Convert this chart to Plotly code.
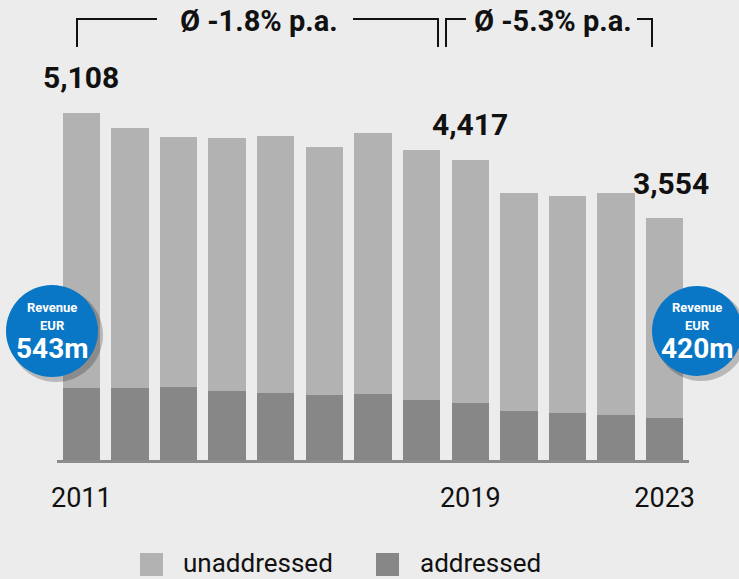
import plotly.graph_objects as go

# ---- data ----
years = list(range(2011, 2024))
totals = [5108, 4883, 4741, 4730, 4760, 4598, 4814, 4560, 4417, 3918, 3888, 3922, 3554]
addressed = [1061, 1055, 1070, 1017, 978, 953, 967, 885, 841, 717, 688, 664, 620]
unaddressed = [t - a for t, a in zip(totals, addressed)]
series_names = ["unaddressed", "addressed"]
tick_years = [2011, 2019, 2023]
labelled_years = [2011, 2019, 2023]
cagr_texts = ["Ø -1.8% p.a.", "Ø -5.3% p.a."]
revenue_texts = [("Revenue", "EUR", "543m"), ("Revenue", "EUR", "420m")]

# ---- style ----
W, H = 739, 579
ML, MR, MT, MB = 57, 50, 0, 119
PW, PH = W - ML - MR, H - MT - MB
BG = "#ececec"
C_UN = "#b2b2b2"
C_AD = "#878787"
BLUE = "#0a77c6"
FONT = "Roboto, 'Open Sans', sans-serif"
YMAX = 6762


def px(xp):
    return (xp - ML) / PW


def py(yp):
    return (MT + PH - yp) / PH


def ann(x, y, text, size, color="#111111", xanchor="center", **kw):
    d = dict(x=px(x), y=py(y), xref="paper", yref="paper", text=text, showarrow=False,
             xanchor=xanchor, yanchor="middle", font=dict(family=FONT, size=size, color=color))
    d.update(kw)
    return d


fig = go.Figure()
fig.add_trace(go.Bar(x=years, y=addressed, name=series_names[1],
                     marker=dict(color=C_AD, line=dict(width=0)), showlegend=False))
fig.add_trace(go.Bar(x=years, y=unaddressed, name=series_names[0],
                     marker=dict(color=C_UN, line=dict(width=0)), showlegend=False))

annotations = []
shapes = []

# value labels
for yr in labelled_years:
    i = years.index(yr)
    annotations.append(dict(x=yr, y=totals[i], xref="x", yref="y", text=f"<b>{totals[i]:,}</b>",
                            showarrow=False, xanchor="center", yanchor="middle",
                            yshift=35, xshift=6 if yr == 2023 else 0,
                            font=dict(family=FONT, size=30, color="#111111")))

# brackets
line = dict(color="#111111", width=2)
for path in [
    f"M {px(77)},{py(47)} L {px(77)},{py(19)} L {px(157)},{py(19)}",
    f"M {px(353)},{py(19)} L {px(438)},{py(19)} L {px(438)},{py(47)}",
    f"M {px(446)},{py(47)} L {px(446)},{py(19)} L {px(466)},{py(19)}",
    f"M {px(637)},{py(19)} L {px(652)},{py(19)} L {px(652)},{py(47)}",
]:
    shapes.append(dict(type="path", path=path, xref="paper", yref="paper", line=line))
for cx, t in zip([259, 553], cagr_texts):
    annotations.append(ann(cx, 21, f"<b>{t}</b>", 29))

# revenue circles
for (cx, cy, r), (t1, t2, t3) in zip([(52, 331, 46), (697, 331, 45)], revenue_texts):
    shapes.append(dict(type="circle", xref="paper", yref="paper",
                       x0=px(cx - r + 3), x1=px(cx + r + 5), y0=py(cy + r + 5), y1=py(cy - r + 3),
                       fillcolor="rgba(0,0,0,0.22)", line=dict(width=0)))
    shapes.append(dict(type="circle", xref="paper", yref="paper",
                       x0=px(cx - r), x1=px(cx + r), y0=py(cy + r), y1=py(cy - r),
                       fillcolor=BLUE, line=dict(width=0)))
    annotations.append(ann(cx, cy - 24, f"<b>{t1}</b>", 13, "white"))
    annotations.append(ann(cx, cy - 6, f"<b>{t2}</b>", 13, "white"))
    annotations.append(ann(cx, cy + 17, f"<b>{t3}</b>", 28, "white"))

# legend (manual, large swatches)
for (sx, tx), name, col in zip([(140, 181), (376, 418)], series_names, [C_UN, C_AD]):
    shapes.append(dict(type="rect", xref="paper", yref="paper",
                       x0=px(sx), x1=px(sx + 23), y0=py(576), y1=py(553),
                       fillcolor=col, line=dict(width=0)))
    annotations.append(ann(tx, 563, name, 26, xanchor="left"))

fig.update_layout(
    width=W, height=H, barmode="stack", bargap=0.23,
    paper_bgcolor=BG, plot_bgcolor=BG,
    margin=dict(l=ML, r=MR, t=MT, b=MB),
    annotations=annotations, shapes=shapes, showlegend=False,
    xaxis=dict(range=[2010.5, 2023.5], tickvals=tick_years, ticktext=[str(y) for y in tick_years],
               showline=True, linecolor="#8c8c8c", linewidth=3, ticks="", showgrid=False,
               zeroline=False, ticklabelstandoff=12,
               tickfont=dict(family=FONT, size=27, color="#111111")),
    yaxis=dict(range=[0, YMAX], visible=False),
)
fig.write_html("out.html", config={"displayModeBar": False},
               post_script="document.body.style.margin='0';")
